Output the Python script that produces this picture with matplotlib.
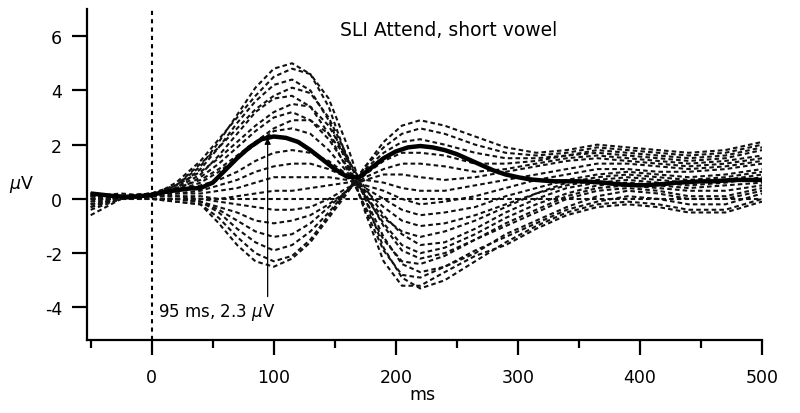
import matplotlib
matplotlib.use("Agg")
import matplotlib.pyplot as plt
from matplotlib.ticker import MultipleLocator

plt.rcParams['axes.unicode_minus'] = False

# ---- data ----
t_ch = [-50, -25, 0, 20, 40, 55, 70, 85, 100, 115, 130, 145, 160, 175,
        190, 205, 220, 240, 265, 290, 315, 340, 365, 390, 415, 440, 470, 500]

ch01 = [-0.6, 0.0, 0.1, 0.5, 1.2, 2.1, 3.1, 4.1, 4.8, 5.0, 4.6, 3.4, 1.5, -0.5, -2.3, -3.2, -3.2, -2.7, -2.1, -1.7, -1.1, -0.6, -0.3, -0.2, -0.3, -0.5, -0.5, -0.1]
ch02 = [-0.4, 0.0, 0.1, 0.6, 1.4, 2.2, 3.0, 3.8, 4.5, 4.8, 4.6, 3.7, 2.0, 0.0, -1.8, -2.9, -3.3, -3.0, -2.3, -1.6, -1.0, -0.5, -0.2, -0.1, -0.2, -0.4, -0.4, 0.0]
ch03 = [-0.3, 0.0, 0.1, 0.4, 1.1, 1.9, 2.8, 3.6, 4.2, 4.4, 4.0, 2.9, 1.3, -0.4, -1.9, -2.8, -2.9, -2.5, -1.9, -1.4, -0.9, -0.4, -0.1, 0.1, 0.0, -0.2, -0.2, 0.2]
ch04 = [-0.2, 0.0, 0.2, 0.5, 1.3, 1.9, 2.6, 3.3, 3.8, 4.1, 3.9, 3.0, 1.6, 0.0, -1.4, -2.4, -2.7, -2.5, -2.0, -1.3, -0.8, -0.3, 0.1, 0.3, 0.2, 0.0, 0.0, 0.3]
ch05 = [-0.3, 0.1, 0.1, 0.4, 0.9, 1.6, 2.4, 3.2, 3.7, 3.8, 3.4, 2.4, 1.1, -0.3, -1.5, -2.3, -2.4, -2.1, -1.5, -1.0, -0.5, 0.0, 0.3, 0.4, 0.3, 0.1, 0.1, 0.4]
ch06 = [-0.1, 0.1, 0.2, 0.5, 1.0, 1.5, 2.1, 2.7, 3.2, 3.5, 3.4, 2.7, 1.5, 0.2, -1.0, -1.9, -2.2, -2.0, -1.5, -0.9, -0.4, 0.1, 0.4, 0.5, 0.4, 0.3, 0.3, 0.5]
ch07 = [-0.2, 0.1, 0.1, 0.3, 0.8, 1.3, 1.9, 2.5, 3.0, 3.2, 2.9, 2.2, 1.2, 0.1, -0.9, -1.7, -2.0, -1.8, -1.3, -0.7, -0.2, 0.2, 0.5, 0.6, 0.5, 0.4, 0.5, 0.6]
ch08 = [0.0, 0.1, 0.2, 0.4, 0.7, 1.1, 1.6, 2.1, 2.6, 2.9, 2.9, 2.4, 1.5, 0.4, -0.6, -1.3, -1.7, -1.6, -1.1, -0.5, 0.0, 0.4, 0.6, 0.7, 0.6, 0.5, 0.6, 0.8]
ch09 = [-0.1, 0.1, 0.1, 0.3, 0.6, 1.0, 1.5, 2.0, 2.5, 2.6, 2.4, 1.8, 1.0, 0.1, -0.7, -1.2, -1.4, -1.2, -0.8, -0.3, 0.2, 0.5, 0.7, 0.8, 0.7, 0.6, 0.7, 0.9]
ch10 = [0.1, 0.1, 0.2, 0.3, 0.5, 0.7, 1.0, 1.4, 1.7, 1.8, 1.7, 1.4, 0.9, 0.3, -0.3, -0.8, -1.0, -0.9, -0.6, -0.2, 0.2, 0.6, 0.8, 0.9, 0.8, 0.7, 0.8, 1.0]
ch11 = [0.0, 0.1, 0.1, 0.2, 0.3, 0.5, 0.7, 1.0, 1.2, 1.3, 1.3, 1.1, 0.8, 0.4, 0.0, -0.4, -0.6, -0.5, -0.3, 0.1, 0.4, 0.7, 0.9, 1.0, 0.9, 0.8, 0.9, 1.1]
ch12 = [0.2, 0.1, 0.2, 0.2, 0.2, 0.3, 0.4, 0.6, 0.8, 0.8, 0.8, 0.8, 0.7, 0.5, 0.3, 0.0, -0.2, -0.1, 0.1, 0.4, 0.7, 0.9, 1.1, 1.1, 1.0, 1.0, 1.1, 1.3]
ch13 = [0.1, 0.2, 0.1, 0.1, 0.1, 0.0, 0.1, 0.2, 0.3, 0.3, 0.4, 0.5, 0.6, 0.7, 0.6, 0.4, 0.3, 0.3, 0.5, 0.7, 0.9, 1.1, 1.3, 1.3, 1.2, 1.1, 1.2, 1.4]
ch14 = [0.0] * 28  # reference electrode, flat at zero
ch15 = [0.0, 0.1, 0.1, 0.1, 0.0, -0.1, -0.2, -0.3, -0.4, -0.4, -0.3, 0.0, 0.4, 0.7, 0.9, 0.9, 0.8, 0.7, 0.8, 1.0, 1.2, 1.4, 1.5, 1.4, 1.3, 1.2, 1.3, 1.5]
ch16 = [0.1, 0.1, 0.0, 0.0, -0.1, -0.3, -0.5, -0.8, -0.9, -0.8, -0.6, -0.2, 0.3, 0.8, 1.1, 1.3, 1.3, 1.2, 1.0, 1.1, 1.3, 1.5, 1.6, 1.5, 1.4, 1.3, 1.4, 1.6]
ch17 = [0.1, 0.0, 0.0, 0.0, -0.1, -0.4, -0.8, -1.2, -1.4, -1.3, -0.9, -0.3, 0.3, 0.9, 1.4, 1.7, 1.7, 1.6, 1.3, 1.3, 1.4, 1.6, 1.7, 1.6, 1.5, 1.4, 1.5, 1.8]
ch18 = [0.2, 0.1, 0.0, 0.0, -0.1, -0.5, -1.1, -1.6, -1.9, -1.7, -1.2, -0.5, 0.3, 1.1, 1.7, 2.1, 2.2, 2.0, 1.7, 1.5, 1.5, 1.6, 1.8, 1.7, 1.6, 1.5, 1.6, 1.9]
ch19 = [0.2, 0.1, 0.0, -0.1, -0.2, -0.7, -1.4, -2.0, -2.3, -2.1, -1.5, -0.6, 0.3, 1.2, 1.9, 2.4, 2.6, 2.4, 2.0, 1.7, 1.6, 1.7, 1.9, 1.8, 1.7, 1.6, 1.7, 2.0]
ch20 = [0.2, 0.1, 0.0, -0.1, -0.2, -0.9, -1.7, -2.3, -2.5, -2.2, -1.6, -0.7, 0.2, 1.2, 2.1, 2.7, 2.9, 2.7, 2.3, 1.9, 1.7, 1.8, 2.0, 1.9, 1.8, 1.7, 1.8, 2.1]

channels = [ch01, ch02, ch03, ch04, ch05, ch06, ch07, ch08, ch09, ch10,
            ch11, ch12, ch13, ch14, ch15, ch16, ch17, ch18, ch19, ch20]

t_mean = list(range(-50, 501, 10))
mean_uv = [0.20, 0.15, 0.10, 0.08, 0.10, 0.15, 0.25, 0.32, 0.38, 0.40,
           0.60, 1.05, 1.50, 1.90, 2.20, 2.30, 2.25, 2.10, 1.80, 1.45,
           1.10, 0.82, 0.80, 1.15, 1.50, 1.75, 1.90, 1.95, 1.90, 1.80,
           1.65, 1.45, 1.25, 1.05, 0.90, 0.80, 0.72, 0.68, 0.65, 0.65,
           0.65, 0.63, 0.60, 0.55, 0.52, 0.50, 0.52, 0.55, 0.60, 0.62,
           0.65, 0.65, 0.68, 0.70, 0.70, 0.70]

peak_ms, peak_uv = 95, 2.3
title = "SLI Attend, short vowel"
x_major = [0, 100, 200, 300, 400, 500]
y_major = [-4, -2, 0, 2, 4, 6]

# ---- figure ----
fig = plt.figure(figsize=(8.0, 4.14), dpi=100)
ax = fig.add_axes([87/800, 1-341/414, (762-87)/800, (341-10)/414])

for ch in channels:
    ax.plot(t_ch, ch, color='#111111', lw=1.5, linestyle=(0, (2.2, 1.5)))

ax.plot(t_mean, mean_uv, color='black', lw=3.2, solid_capstyle='butt')

ax.axvline(0, color='black', lw=1.5, linestyle=(0, (2, 2)))

ax.annotate('', xy=(peak_ms, peak_uv - 0.05), xytext=(peak_ms, -3.6),
            arrowprops=dict(arrowstyle='-|>', lw=0.9, color='black',
                            mutation_scale=9, shrinkA=0, shrinkB=0))
ax.text(53, -4.16, f"{peak_ms} ms, {peak_uv} $\\mu$V", ha='center', va='center', fontsize=12)
ax.text(243, 6.26, title, ha='center', va='center', fontsize=13.5)

ax.set_xlim(-53, 500)
ax.set_ylim(-5.2, 7.0)
ax.set_xticks(x_major)
ax.xaxis.set_minor_locator(MultipleLocator(50))
ax.set_yticks(y_major)
ax.tick_params(axis='both', which='major', length=11, width=1.6, labelsize=12.5, direction='out')
ax.tick_params(axis='x', which='major', pad=9)
ax.tick_params(axis='y', which='major', pad=7)
ax.tick_params(axis='x', which='minor', length=6, width=1.6, direction='out')
for s in ['top', 'right']:
    ax.spines[s].set_visible(False)
for s in ['left', 'bottom']:
    ax.spines[s].set_linewidth(1.6)

fig.text(22/800, 1-185/414, r'$\mu$V', ha='center', va='center', fontsize=12.5)
fig.text(422/800, 1-395/414, 'ms', ha='center', va='center', fontsize=12.5)

fig.savefig('out.png', dpi=100)
